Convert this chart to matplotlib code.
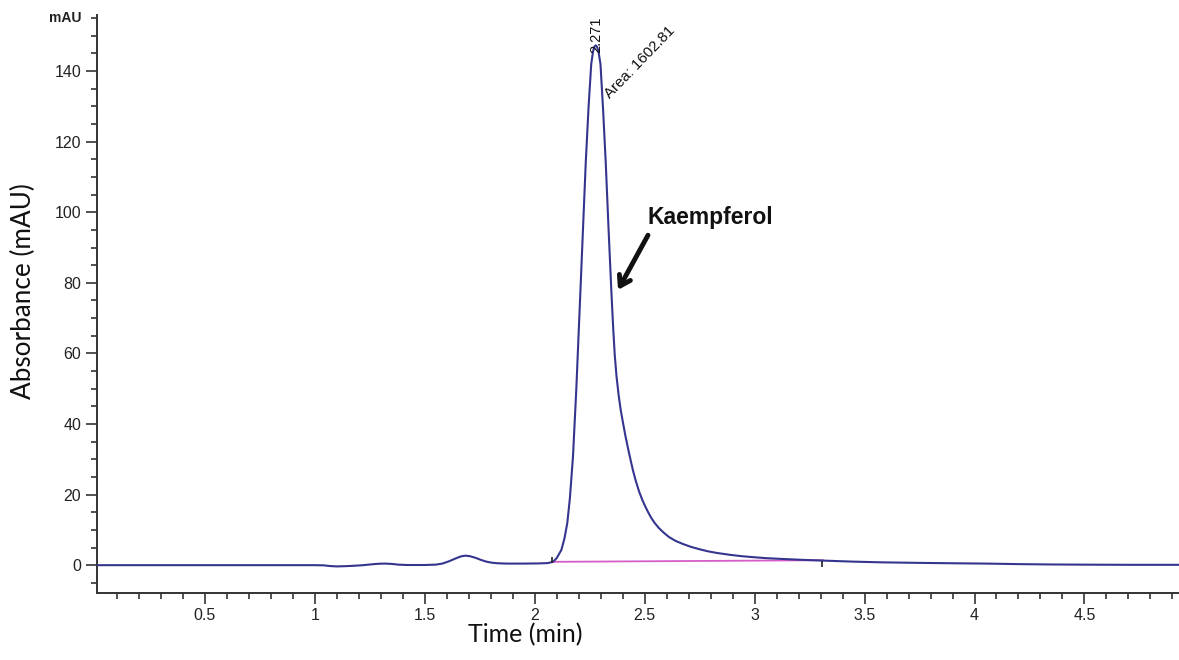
import matplotlib
matplotlib.use("Agg")
import matplotlib.pyplot as plt
from matplotlib.ticker import MultipleLocator, FixedLocator, FixedFormatter

# ---- data ----
time_min = [0.008, 0.5, 1.0, 1.04, 1.07, 1.1, 1.13, 1.17, 1.22, 1.26, 1.29, 1.32,
            1.35, 1.38, 1.42, 1.5, 1.55, 1.58, 1.61, 1.64, 1.665, 1.685, 1.705,
            1.73, 1.755, 1.78, 1.805, 1.83, 1.87, 1.95, 2.02, 2.06, 2.083, 2.10,
            2.121, 2.135, 2.148, 2.16, 2.174, 2.189, 2.208, 2.22, 2.232, 2.245,
            2.257, 2.265, 2.272, 2.278, 2.284, 2.29, 2.299, 2.311, 2.323, 2.336,
            2.349, 2.357, 2.364, 2.372, 2.382, 2.391, 2.401, 2.412, 2.425, 2.436,
            2.447, 2.46, 2.475, 2.49, 2.5, 2.515, 2.53, 2.545, 2.565, 2.585, 2.61,
            2.64, 2.674, 2.71, 2.75, 2.79, 2.83, 2.886, 2.94, 2.977, 3.05, 3.13,
            3.22, 3.31, 3.45, 3.58, 3.75, 3.886, 4.05, 4.2, 4.35, 4.49, 4.7, 4.93]
absorbance = [0.0, 0.0, 0.0, -0.05, -0.25, -0.35, -0.3, -0.2, 0.0, 0.25, 0.4, 0.45,
              0.35, 0.15, 0.05, 0.05, 0.15, 0.45, 1.1, 1.9, 2.5, 2.7, 2.55,
              2.1, 1.5, 1.0, 0.7, 0.55, 0.45, 0.45, 0.5, 0.6, 0.95, 2.0,
              4.3, 7.5, 11.9, 19.0, 30.8, 49.7, 78.0, 96.0, 114.0, 130.0,
              142.0, 145.5, 147.0, 147.3, 146.8, 145.5, 142.0, 129.0, 114.0, 95.0,
              77.0, 67.0, 59.5, 53.5, 48.0, 44.0, 40.5, 36.8, 32.9, 29.8,
              26.8, 23.8, 20.8, 18.4, 17.0, 15.1, 13.4, 12.0, 10.5, 9.3, 8.0,
              6.9, 6.0, 5.2, 4.5, 3.9, 3.45, 2.95, 2.55, 2.35, 2.0, 1.75,
              1.5, 1.3, 1.0, 0.8, 0.65, 0.55, 0.45, 0.3, 0.2, 0.15, 0.1, 0.1]

baseline_time = [2.083, 3.31]
baseline_abs = [0.95, 1.4]

event_time = [2.08, 3.307]
event_low = [0.6, -0.4]
event_high = [2.4, 1.3]

peak_rt_label = "2.271"
peak_area_label = "Area: 1602.81"
compound = "Kaempferol"

x_major = [0.5, 1, 1.5, 2, 2.5, 3, 3.5, 4, 4.5]
x_major_labels = ["0.5", "1", "1.5", "2", "2.5", "3", "3.5", "4", "4.5"]
y_major = [0, 20, 40, 60, 80, 100, 120, 140]

W, H = 1179, 660
fig = plt.figure(figsize=(W / 100, H / 100), dpi=100)
ax = fig.add_axes([96.7 / W, 1 - 592.7 / H, 1 - 96.7 / W, (592.7 - 15) / H])

ax.plot(time_min, absorbance, color="#35358f", lw=1.5, zorder=3,
        solid_joinstyle="round")
ax.plot(baseline_time, baseline_abs, color="#d65cc8", lw=1.3, zorder=2)
ax.vlines(event_time, event_low, event_high, color="#222222", lw=1.2, zorder=4)

ax.set_xlim(0.008, 4.93)
ax.set_ylim(-7.8, 155.9)

for s in ["top", "right"]:
    ax.spines[s].set_visible(False)
for s in ["left", "bottom"]:
    ax.spines[s].set_color("#333333")
    ax.spines[s].set_linewidth(1.4)

ax.xaxis.set_major_locator(FixedLocator(x_major))
ax.xaxis.set_major_formatter(FixedFormatter(x_major_labels))
ax.xaxis.set_minor_locator(MultipleLocator(0.1))
ax.yaxis.set_major_locator(FixedLocator(y_major))
ax.yaxis.set_minor_locator(MultipleLocator(5))

tick_font = "Liberation Sans"
ax.tick_params(axis="both", which="major", direction="out", length=7.7, width=1.2,
               color="#333333", labelsize=11.5, pad=3.5, labelcolor="#222222")
ax.tick_params(axis="both", which="minor", direction="out", length=4.0, width=1.2,
               color="#333333")
for lab in ax.get_xticklabels() + ax.get_yticklabels():
    lab.set_fontfamily(tick_font)

ax.text(2.28, 145.0, peak_rt_label, rotation=90, rotation_mode="anchor",
        ha="left", va="center", fontsize=10.5, family=tick_font, color="#111111")
ax.text(2.341, 132.0, peak_area_label, rotation=46, rotation_mode="anchor",
        ha="left", va="baseline", fontsize=10.8, family=tick_font, color="#111111")

ax.text(2.514, 96.6, compound, fontsize=16.5, fontweight="bold", family=tick_font,
        ha="left", va="baseline", color="#111111")
ax.annotate("", xy=(2.379, 78.0), xytext=(2.515, 93.5),
            arrowprops=dict(arrowstyle="->, head_length=0.7, head_width=0.45",
                            lw=3.5, color="#111111", shrinkA=0, shrinkB=0))

fig.text(81 / W, 1 - 18 / H, "mAU", ha="right", va="center", fontsize=10,
         family=tick_font, fontweight="bold", color="#222222")

fig.text(23 / W, 1 - 291.5 / H, "Absorbance (mAU)", rotation=90, ha="center",
         va="center", fontsize=18.8, family="Lato", color="#111111")
fig.text(525 / W, 1 - 642 / H, "Time (min)", ha="center", va="baseline",
         fontsize=18, family="Lato", color="#111111")

fig.savefig("out.png", dpi=100)
